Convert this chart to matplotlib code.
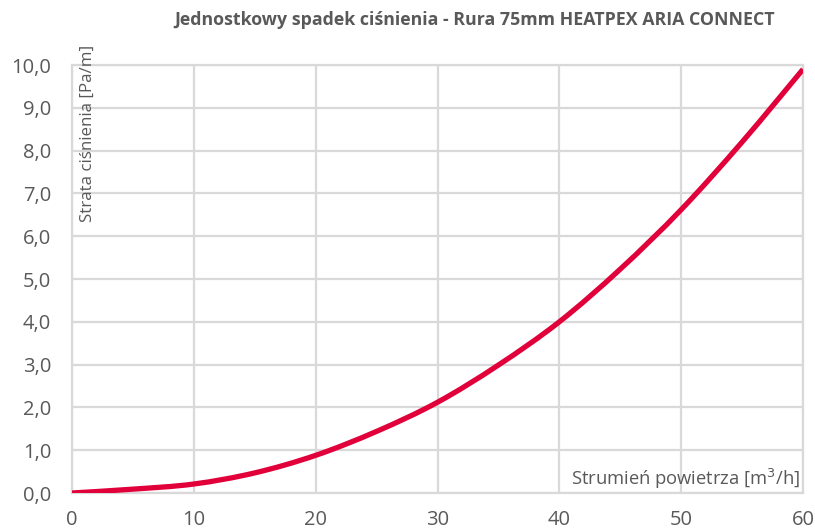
import matplotlib
matplotlib.use('Agg')
import matplotlib.pyplot as plt
from matplotlib.path import Path
from matplotlib.patches import PathPatch

# przepływ powietrza [m3/h] i jednostkowy spadek ciśnienia [Pa/m]
flow = [0, 5, 10, 15, 20, 25, 30, 35, 40, 45, 50, 55, 60]
loss = [0.0, 0.09, 0.21, 0.47, 0.88, 1.44, 2.12, 2.99, 4.0, 5.23, 6.62, 8.2, 9.9]

xticks = [0, 10, 20, 30, 40, 50, 60]
yticks = [0, 1, 2, 3, 4, 5, 6, 7, 8, 9, 10]

grey = '#595959'
plt.rcParams['font.family'] = ['Open Sans', 'DejaVu Sans']


def smooth_path(xs, ys):
    # wygładzona linia jak w arkuszu (krzywe Beziera przez punkty)
    pts = list(zip(xs, ys))
    verts = [pts[0]]
    codes = [Path.MOVETO]
    n = len(pts)
    for i in range(n - 1):
        p0 = pts[i - 1] if i > 0 else pts[i]
        p1 = pts[i]
        p2 = pts[i + 1]
        p3 = pts[i + 2] if i + 2 < n else pts[i + 1]
        c1 = (p1[0] + (p2[0] - p0[0]) / 6, p1[1] + (p2[1] - p0[1]) / 6)
        c2 = (p2[0] - (p3[0] - p1[0]) / 6, p2[1] - (p3[1] - p1[1]) / 6)
        verts += [c1, c2, p2]
        codes += [Path.CURVE4] * 3
    return Path(verts, codes)


fig = plt.figure(figsize=(8.15, 5.31), dpi=100)
ax = fig.add_axes([72/815, 1 - 493/531, (803-72)/815, (493-65)/531])

ax.add_patch(PathPatch(smooth_path(flow, loss), fill=False, edgecolor='#E2003B',
                       lw=3.8, capstyle='butt', zorder=3))

ax.set_xlim(0, 60)
ax.set_ylim(0, 10)
ax.set_xticks(xticks)
ax.set_yticks(yticks)
ax.set_yticklabels([('%.1f' % v).replace('.', ',') for v in yticks])
ax.tick_params(length=0, labelsize=14.5, colors=grey)
ax.tick_params(axis='y', pad=15)
ax.tick_params(axis='x', pad=12)
ax.grid(True, color='#d9d9d9', lw=1.6)
for s in ax.spines.values():
    s.set_color('#d9d9d9')
    s.set_linewidth(1.6)
ax.set_axisbelow(True)

fig.text(475/815, 1 - 20/531, 'Jednostkowy spadek ciśnienia - Rura 75mm HEATPEX ARIA CONNECT',
         ha='center', va='center', fontsize=12.8, fontweight='bold', color=grey)
fig.text(88/815, 1 - 45/531, 'Strata ciśnienia [Pa/m]', rotation=90,
         ha='center', va='top', fontsize=12.2, color=grey)
fig.text(800/815, 1 - 479/531, 'Strumień powietrza [m$^3$/h]',
         ha='right', va='center', fontsize=13.2, color=grey)

fig.savefig('out.png', dpi=100)
